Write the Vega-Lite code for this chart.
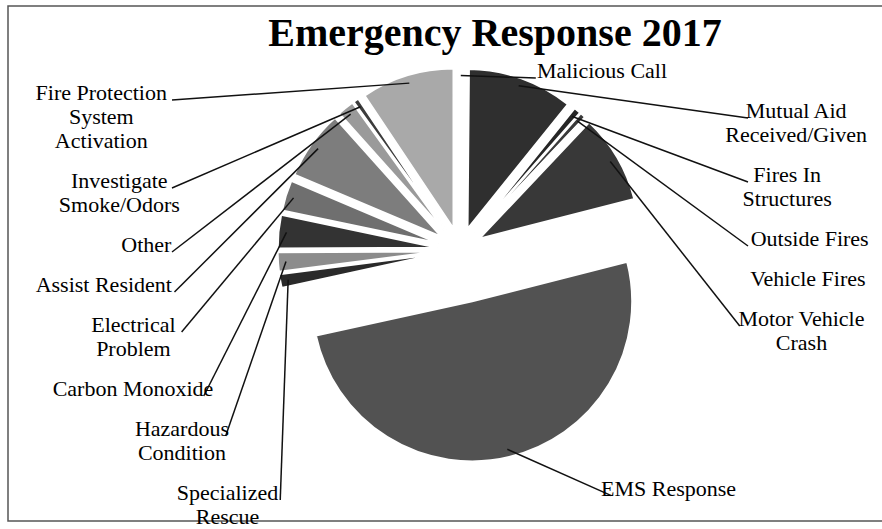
{
  "$schema": "https://vega.github.io/schema/vega-lite/v6.json",
  "width": 880,
  "height": 515,
  "autosize": {"type": "none"},
  "padding": {"left": 8, "top": 6, "right": 0, "bottom": 8},
  "background": "#ffffff",
  "title": {
    "text": "Emergency Response 2017",
    "font": "Liberation Serif",
    "fontSize": 40,
    "fontWeight": "bold",
    "color": "#000000",
    "anchor": "middle",
    "frame": "group",
    "orient": "top",
    "baseline": "alphabetic",
    "offset": 0,
    "dx": 47,
    "dy": 80
  },
  "config": {"view": {"stroke": "#555555", "strokeWidth": 1.5}},
  "data": {
    "values": [
      {"category": "Malicious Call", "value": 2},
      {"category": "Mutual Aid\nReceived/Given", "value": 152},
      {"category": "Fires In\nStructures", "value": 10},
      {"category": "Outside Fires", "value": 8},
      {"category": "Vehicle Fires", "value": 0},
      {"category": "Motor Vehicle\nCrash", "value": 128},
      {"category": "EMS Response", "value": 722},
      {"category": "Specialized\nRescue", "value": 20},
      {"category": "Hazardous\nCondition", "value": 28},
      {"category": "Carbon Monoxide", "value": 48},
      {"category": "Electrical\nProblem", "value": 44},
      {"category": "Assist Resident", "value": 100},
      {"category": "Other", "value": 24},
      {"category": "Investigate\nSmoke/Odors", "value": 8},
      {"category": "Fire Protection\nSystem\nActivation", "value": 134}
    ]
  },
  "transform": [
    {"window": [{"op": "row_number", "as": "idx"}]},
    {"joinaggregate": [{"op": "sum", "field": "value", "as": "total"}]},
    {"window": [{"op": "sum", "field": "value", "as": "cum"}], "sort": [{"field": "idx"}], "frame": [null, 0]},
    {"calculate": "(datum.cum - datum.value) / datum.total", "as": "t0"},
    {"calculate": "datum.cum / datum.total", "as": "t1"},
    {"calculate": "PI * (datum.t0 + datum.t1)", "as": "m"},
    {"calculate": "datum.value / datum.total > 0.3 ? 0.33 : 0.14", "as": "e"},
    {"calculate": "datum.e * sin(datum.m)", "as": "cx"},
    {"calculate": "-datum.e * cos(datum.m)", "as": "cy"},
    {"calculate": "datum.cx + 0.95 * sin(datum.m)", "as": "ex"},
    {"calculate": "datum.cy - 0.95 * cos(datum.m)", "as": "ey"},
    {"calculate": "cos(datum.m) < -0.5 ? 'B' : (datum.m < PI ? 'R' : 'L')", "as": "side"},
    {"calculate": "datum.side === 'L' ? -datum.m : datum.m", "as": "rk"},
    {"calculate": "length(split(datum.category, '\\n'))", "as": "nl"},
    {"window": [{"op": "row_number", "as": "slot"}, {"op": "sum", "field": "nl", "as": "cl"}], "groupby": ["side"], "sort": [{"field": "rk"}], "frame": [null, 0]},
    {"calculate": "datum.side === 'B' ? datum.ey + 0.29 : (datum.side === 'R' ? -1.075 + (24 * (datum.cl - datum.nl) + 16 * (datum.slot - 1)) / 160 : -0.9375 + (24 * (datum.cl - datum.nl) + 16 * (datum.slot - 1)) / 160)", "as": "ly"},
    {"calculate": "datum.side === 'B' ? datum.ex + 0.65 : ((datum.side === 'R' ? 0.45 + 1.35 * min(1, 4 * sin(datum.m)) : -1.8) * (datum.ly > 0 ? sqrt(1 - pow(datum.ly / 2, 2)) : 1))", "as": "lx"},
    {"calculate": "length(split(datum.category, '\\n')[0]) * 9 / 160", "as": "w"},
    {"calculate": "datum.side === 'L' ? datum.lx - datum.w / 2 - 0.02 : datum.lx + datum.w / 2 + 0.02", "as": "tx"}
  ],
  "layer": [
    {
      "mark": {"type": "arc", "outerRadius": 160, "stroke": "#ffffff", "strokeWidth": 2},
      "encoding": {
        "x": {"field": "cx", "type": "quantitative", "scale": {"domain": [-2.825, 2.675], "nice": false, "zero": false}, "axis": null},
        "y": {"field": "cy", "type": "quantitative", "scale": {"domain": [-1.525, 1.69375], "nice": false, "zero": false, "reverse": true}, "axis": null},
        "theta": {"field": "t0", "type": "quantitative", "stack": null, "scale": {"domain": [0, 1], "range": [0, 6.283185307179586]}},
        "theta2": {"field": "t1"},
        "color": {
          "field": "category",
          "type": "nominal",
          "legend": null,
          "scale": {
            "domain": ["Malicious Call", "Mutual Aid\nReceived/Given", "Fires In\nStructures", "Outside Fires", "Vehicle Fires", "Motor Vehicle\nCrash", "EMS Response", "Specialized\nRescue", "Hazardous\nCondition", "Carbon Monoxide", "Electrical\nProblem", "Assist Resident", "Other", "Investigate\nSmoke/Odors", "Fire Protection\nSystem\nActivation"],
            "range": ["#444444", "#2f2f2f", "#262626", "#3a3a3a", "#555555", "#383838", "#525252", "#2a2a2a", "#8c8c8c", "#333333", "#6f6f6f", "#7d7d7d", "#9a9a9a", "#3c3c3c", "#a9a9a9"]
          }
        }
      }
    },
    {
      "transform": [{"filter": "datum.value > 0"}],
      "mark": {"type": "rule", "color": "#111111", "strokeWidth": 1.5},
      "encoding": {
        "x": {"field": "ex", "type": "quantitative"},
        "y": {"field": "ey", "type": "quantitative"},
        "x2": {"field": "lx"},
        "y2": {"field": "ly"}
      }
    },
    {
      "mark": {"type": "text", "font": "Liberation Serif", "fontSize": 22, "lineBreak": "\n", "lineHeight": 24, "align": "center", "baseline": "alphabetic", "color": "#000000"},
      "encoding": {
        "x": {"field": "tx", "type": "quantitative"},
        "y": {"field": "ly", "type": "quantitative"},
        "text": {"field": "category", "type": "nominal"}
      }
    }
  ]
}
